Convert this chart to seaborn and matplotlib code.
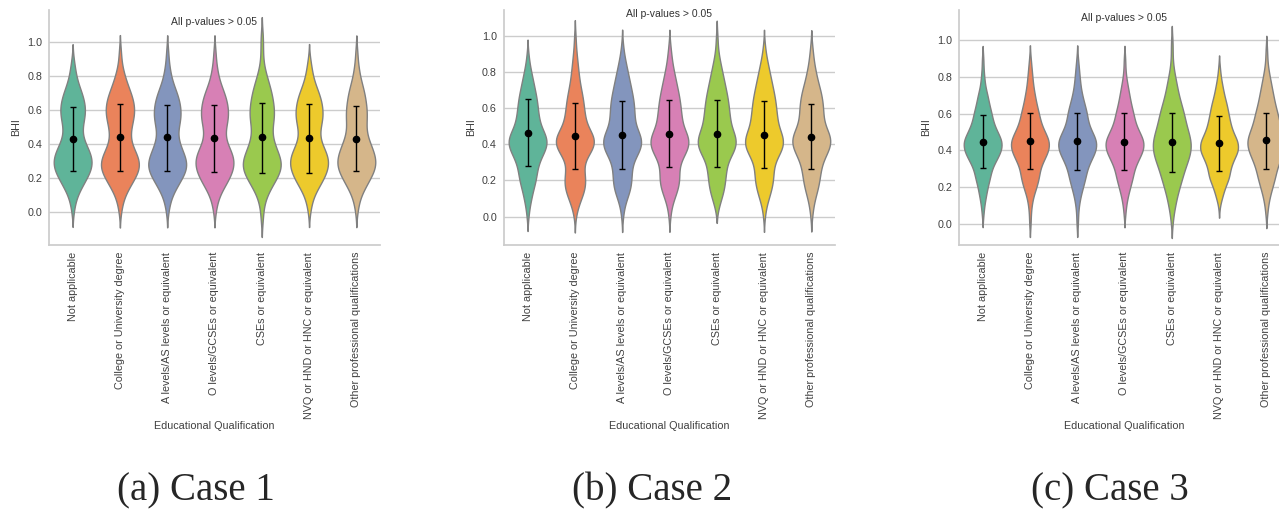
import numpy as np
import pandas as pd
import matplotlib.pyplot as plt
import seaborn as sns

# categorias e valores
categories = ['Not applicable', 'College or University degree',
              'A levels/AS levels or equivalent', 'O levels/GCSEs or equivalent',
              'CSEs or equivalent', 'NVQ or HND or HNC or equivalent',
              'Other professional qualifications']

# centros das classes de BHI (-0.05 ... 1.10)
bhi_bins = [-0.05, 0.00, 0.05, 0.10, 0.15, 0.20, 0.25, 0.30, 0.35, 0.40, 0.45, 0.50,
            0.55, 0.60, 0.65, 0.70, 0.75, 0.80, 0.85, 0.90, 0.95, 1.00, 1.05, 1.10]

# contagens por classe (uma linha por categoria)
case1_counts = [
    [0, 1, 2, 4, 8, 12, 16, 17, 15, 11, 8, 8, 10, 11, 10, 8, 5, 3, 2, 1, 0, 0, 0, 0],
    [0, 1, 2, 4, 8, 12, 16, 16, 13, 9, 8, 9, 11, 12, 11, 9, 6, 4, 2, 1, 1, 0, 0, 0],
    [0, 1, 2, 4, 8, 12, 16, 16, 13, 10, 8, 9, 11, 11, 10, 8, 5, 3, 2, 1, 1, 0, 0, 0],
    [0, 1, 2, 4, 8, 12, 15, 16, 14, 10, 8, 9, 11, 11, 10, 8, 5, 3, 2, 1, 1, 0, 0, 0],
    [1, 1, 2, 4, 8, 12, 16, 16, 13, 10, 8, 8, 10, 10, 9, 8, 6, 4, 2, 1, 1, 1, 1, 0],
    [0, 1, 2, 4, 8, 12, 15, 16, 14, 10, 8, 9, 11, 11, 10, 8, 5, 3, 2, 1, 0, 0, 0, 0],
    [0, 1, 2, 4, 8, 12, 16, 17, 15, 12, 9, 8, 9, 9, 8, 7, 5, 3, 2, 1, 1, 0, 0, 0],
]
case2_counts = [
    [0, 1, 2, 4, 6, 9, 10, 12, 17, 22, 20, 14, 12, 11, 10, 8, 6, 4, 2, 1, 0, 0, 0, 0],
    [0, 1, 3, 7, 11, 12, 10, 9, 16, 23, 21, 13, 11, 10, 9, 7, 5, 4, 3, 2, 1, 1, 0, 0],
    [0, 1, 2, 5, 9, 10, 10, 11, 17, 22, 20, 14, 13, 13, 12, 10, 8, 6, 4, 2, 1, 0, 0, 0],
    [0, 1, 2, 5, 9, 11, 10, 11, 17, 22, 20, 14, 13, 12, 11, 9, 7, 5, 3, 2, 1, 0, 0, 0],
    [0, 0, 2, 5, 8, 9, 10, 11, 17, 22, 20, 15, 14, 13, 12, 10, 8, 6, 4, 2, 1, 1, 0, 0],
    [0, 1, 2, 5, 8, 10, 10, 11, 17, 22, 20, 15, 14, 13, 12, 10, 8, 6, 4, 2, 1, 0, 0, 0],
    [0, 1, 2, 4, 7, 9, 10, 12, 17, 22, 21, 15, 13, 13, 12, 10, 7, 5, 3, 2, 1, 0, 0, 0],
]
case3_counts = [
    [0, 0, 1, 2, 4, 6, 9, 11, 17, 23, 24, 18, 13, 11, 8, 6, 3, 2, 1, 1, 0, 0, 0, 0],
    [0, 1, 1, 2, 4, 8, 11, 12, 17, 23, 24, 18, 13, 11, 8, 6, 4, 3, 2, 1, 0, 0, 0, 0],
    [0, 1, 1, 2, 4, 7, 10, 12, 17, 23, 24, 18, 13, 12, 9, 6, 4, 3, 2, 1, 0, 0, 0, 0],
    [0, 0, 1, 2, 4, 7, 10, 12, 17, 23, 24, 18, 13, 11, 8, 6, 4, 2, 1, 1, 0, 0, 0, 0],
    [0, 1, 2, 4, 6, 9, 12, 15, 19, 22, 22, 19, 16, 14, 11, 8, 6, 4, 2, 1, 1, 1, 0, 0],
    [0, 0, 0, 1, 4, 7, 12, 13, 17, 23, 22, 16, 13, 11, 9, 6, 4, 2, 1, 0, 0, 0, 0, 0],
    [0, 0, 1, 2, 4, 7, 10, 12, 16, 21, 23, 19, 15, 13, 10, 8, 6, 4, 2, 1, 1, 0, 0, 0],
]

# média e limites das barras de erro
case1_mean = [0.431, 0.443, 0.439, 0.435, 0.439, 0.433, 0.431]
case1_low = [0.239, 0.239, 0.241, 0.235, 0.227, 0.229, 0.239]
case1_high = [0.620, 0.638, 0.628, 0.632, 0.642, 0.636, 0.626]

case2_mean = [0.465, 0.445, 0.454, 0.456, 0.458, 0.454, 0.443]
case2_low = [0.282, 0.262, 0.266, 0.273, 0.273, 0.268, 0.262]
case2_high = [0.649, 0.627, 0.642, 0.644, 0.644, 0.638, 0.622]

case3_mean = [0.447, 0.453, 0.451, 0.447, 0.445, 0.438, 0.455]
case3_low = [0.302, 0.296, 0.293, 0.291, 0.284, 0.285, 0.300]
case3_high = [0.591, 0.605, 0.605, 0.605, 0.605, 0.589, 0.605]

captions = ['(a) Case 1', '(b) Case 2', '(c) Case 3']


def make_frame(counts):
    parts = []
    for cat, c in zip(categories, counts):
        vals = np.repeat(bhi_bins, c)
        parts.append(pd.DataFrame({'Educational Qualification': cat, 'BHI': vals}))
    return pd.concat(parts, ignore_index=True)


sns.set_theme(style='whitegrid')
plt.rcParams['font.family'] = ['Liberation Sans', 'DejaVu Sans']

# Set2 um pouco mais escuro, como na figura original
palette = [tuple(ch * 0.93 for ch in col) for col in sns.color_palette('Set2', 7)]

fig = plt.figure(figsize=(12.79, 5.09), dpi=100)

panels = [
    (case1_counts, case1_mean, case1_low, case1_high, 0.0383, (-0.195, 1.19)),
    (case2_counts, case2_mean, case2_low, case2_high, 0.3940, (-0.157, 1.144)),
    (case3_counts, case3_mean, case3_low, case3_high, 0.7498, (-0.116, 1.165)),
]
caption_x = [0.153, 0.510, 0.868]

for i, (counts, mean, low, high, left, ylim) in enumerate(panels):
    ax = fig.add_axes([left, 0.5187, 0.2588, 0.4617])
    df = make_frame(counts)
    sns.violinplot(data=df, x='Educational Qualification', y='BHI',
                   hue='Educational Qualification', order=categories,
                   palette=palette, saturation=1, legend=False, inner=None,
                   bw_adjust=0.6, linewidth=1, linecolor='0.5', ax=ax)
    mean = np.array(mean)
    yerr = [mean - np.array(low), np.array(high) - mean]
    ax.errorbar(range(len(categories)), mean, yerr=yerr, fmt='o', color='black',
                markersize=4.5, capsize=2.5, elinewidth=1, capthick=1, zorder=5)
    ax.text(3, 1.12, 'All p-values > 0.05', ha='center', va='center', fontsize=7.5,
            color='0.2')
    ax.set_xlim(-0.5, 6.5)
    ax.set_ylim(*ylim)
    ax.set_yticks([0.0, 0.2, 0.4, 0.6, 0.8, 1.0])
    ax.tick_params(axis='both', labelsize=7.75, colors='0.25', length=0, pad=5)
    ax.tick_params(axis='x', rotation=90)
    ax.set_xlabel('Educational Qualification', fontsize=7.75, color='0.25', labelpad=2)
    ax.set_ylabel('BHI', fontsize=7.75, color='0.25', labelpad=4)
    sns.despine(ax=ax)
    fig.text(caption_x[i], 0.036, captions[i], ha='center', va='center',
             fontsize=28, family='Liberation Serif')

fig.savefig('out.png', dpi=100)
